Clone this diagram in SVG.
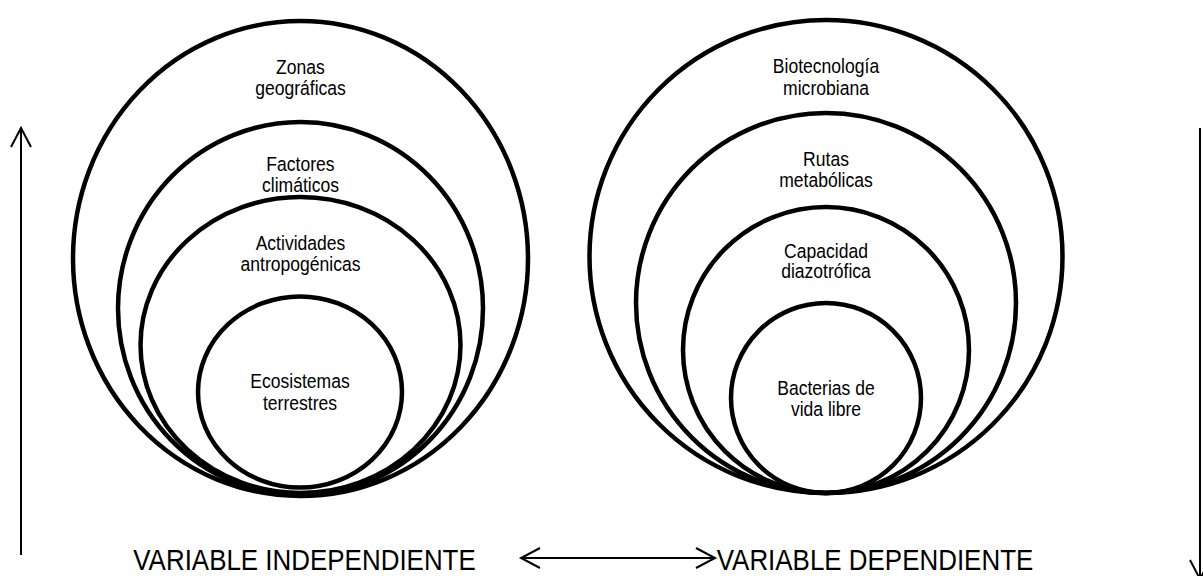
<svg xmlns="http://www.w3.org/2000/svg" width="1203" height="576" viewBox="0 0 1203 576">
  <style>
    .c { fill: none; stroke: #000; stroke-width: 4.5; }
    .a { fill: none; stroke: #000; stroke-width: 2; }
    .t { font-family: "Liberation Sans", Arial, sans-serif; font-size: 19.5px; fill: #000; text-anchor: middle; }
    .b { font-family: "Liberation Sans", Arial, sans-serif; font-size: 30px; fill: #000; text-anchor: middle; }
  </style>
  <defs>
    <marker id="open" markerUnits="userSpaceOnUse" markerWidth="24" markerHeight="24" viewBox="0 0 24 24" refX="21" refY="12" orient="auto-start-reverse">
      <path d="M2,2 L21,12 L2,22" fill="none" stroke="#000" stroke-width="2"/>
    </marker>
  </defs>
  <rect width="1203" height="576" fill="#fff"/>

  <g id="left-set">
    <g id="zonas-geograficas">
      <ellipse class="c" cx="300.5" cy="258.5" rx="227.5" ry="237.5"/>
      <g transform="translate(300.5 0) scale(0.9 1)">
        <text class="t" x="0" y="74">Zonas</text>
        <text class="t" x="0" y="95.5">geográficas</text>
      </g>
    </g>
    <g id="factores-climaticos">
      <ellipse class="c" cx="300.5" cy="308.5" rx="182.5" ry="186.5"/>
      <g transform="translate(300.5 0) scale(0.9 1)">
        <text class="t" x="0" y="170.7">Factores</text>
        <text class="t" x="0" y="191.7">climáticos</text>
      </g>
    </g>
    <g id="actividades-antropogenicas">
      <ellipse class="c" cx="300.5" cy="345" rx="160" ry="148"/>
      <g transform="translate(300.5 0) scale(0.9 1)">
        <text class="t" x="0" y="250">Actividades</text>
        <text class="t" x="0" y="271.5">antropogénicas</text>
      </g>
    </g>
    <g id="ecosistemas-terrestres">
      <ellipse class="c" cx="300" cy="392" rx="102" ry="95.5"/>
      <g transform="translate(300 0) scale(0.9 1)">
        <text class="t" x="0" y="388.5">Ecosistemas</text>
        <text class="t" x="0" y="410">terrestres</text>
      </g>
    </g>
  </g>

  <g id="right-set">
    <g id="biotecnologia-microbiana">
      <circle class="c" cx="826" cy="256.5" r="236.5"/>
      <g transform="translate(826 0) scale(0.9 1)">
        <text class="t" x="0" y="73.3">Biotecnología</text>
        <text class="t" x="0" y="95">microbiana</text>
      </g>
    </g>
    <g id="rutas-metabolicas">
      <circle class="c" cx="826" cy="303" r="190"/>
      <g transform="translate(826 0) scale(0.9 1)">
        <text class="t" x="0" y="165.7">Rutas</text>
        <text class="t" x="0" y="186.7">metabólicas</text>
      </g>
    </g>
    <g id="capacidad-diazotrofica">
      <circle class="c" cx="826" cy="350" r="143"/>
      <g transform="translate(826 0) scale(0.9 1)">
        <text class="t" x="0" y="258.3">Capacidad</text>
        <text class="t" x="0" y="278.5">diazotrófica</text>
      </g>
    </g>
    <g id="bacterias-vida-libre">
      <circle class="c" cx="826" cy="398" r="95"/>
      <g transform="translate(826 0) scale(0.9 1)">
        <text class="t" x="0" y="395">Bacterias de</text>
        <text class="t" x="0" y="415.7">vida libre</text>
      </g>
    </g>
  </g>

  <g id="labels">
    <g id="variable-independiente" transform="translate(304.5 569.5) scale(0.865 1)">
      <text class="b" x="0" y="0">VARIABLE INDEPENDIENTE</text>
    </g>
    <g id="variable-dependiente" transform="translate(875 569.5) scale(0.865 1)">
      <text class="b" x="0" y="0">VARIABLE DEPENDIENTE</text>
    </g>
  </g>

  <g id="connectors">
    <line class="a" x1="21" y1="555" x2="21" y2="128" marker-end="url(#open)"/>
    <line class="a" x1="521" y1="558" x2="715" y2="558" marker-start="url(#open)" marker-end="url(#open)"/>
    <line class="a" x1="1200" y1="128" x2="1200" y2="579" marker-end="url(#open)"/>
  </g>
</svg>
